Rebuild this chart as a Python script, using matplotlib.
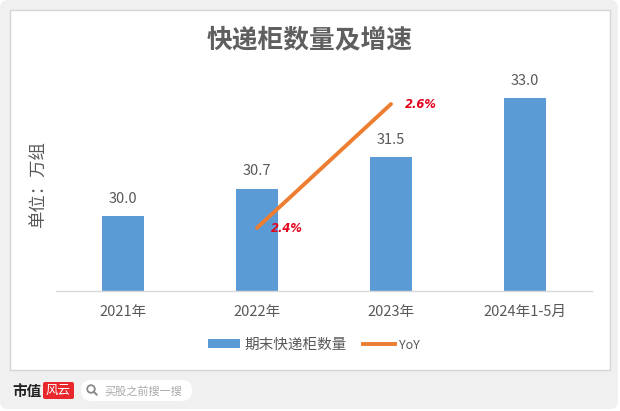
import matplotlib
matplotlib.use("Agg")
import matplotlib.pyplot as plt
from matplotlib.patches import FancyBboxPatch, Rectangle, Circle, Patch
from matplotlib.lines import Line2D

plt.rcParams['font.family'] = ['Noto Sans CJK SC', 'DejaVu Sans']

# ---- data ----
categories = ["2021年", "2022年", "2023年", "2024年1-5月"]
lockers = [30.0, 30.7, 31.5, 33.0]
yoy_categories = ["2022年", "2023年"]
yoy = [2.4, 2.6]

title = "快递柜数量及增速"
ylabel = "单位：万组"
legend_labels = ["期末快递柜数量", "YoY"]

BLUE = "#5b9bd5"
ORANGE = "#ed7d31"
GRAY_TXT = "#595959"
RED = "#e3001b"

W, H = 620, 411
fig = plt.figure(figsize=(W / 100, H / 100), dpi=100)
fig.patch.set_facecolor("white")

# background / card in pixel coordinates
bg = fig.add_axes([0, 0, 1, 1], zorder=0)
bg.set_xlim(0, W)
bg.set_ylim(H, 0)
bg.axis("off")
bg.add_patch(FancyBboxPatch((0, 0), 618, 409, boxstyle="round,pad=0,rounding_size=8",
                            fc="#f0f0f0", ec="none"))
bg.add_patch(Rectangle((9.5, 10), 600, 360, fc="white", ec="#d6d6d6", lw=1))

bg.text(310, 40, title, ha="center", va="center", fontsize=18.5, fontweight="bold",
        color="#5f5f5f")
bg.text(39, 185, ylabel, ha="center", va="center", rotation=90, fontsize=12.5, color=GRAY_TXT)

# footer
bg.text(12, 391, "市值", ha="left", va="center", fontsize=10.5, fontweight="bold", color="#222222")
bg.add_patch(FancyBboxPatch((43, 382), 31, 17, boxstyle="round,pad=0,rounding_size=2",
                            fc="#e8262b", ec="none"))
bg.text(58.5, 390.5, "风云", ha="center", va="center", fontsize=9, color="white", style="italic")
bg.add_patch(FancyBboxPatch((81, 380), 111, 21, boxstyle="round,pad=0,rounding_size=10",
                            fc="white", ec="none"))
bg.add_patch(Circle((91, 389), 3.8, fc="none", ec="#888888", lw=1.3))
bg.plot([93.8, 96.8], [391.8, 394.8], color="#888888", lw=1.4, solid_capstyle="round")
bg.text(104, 391, "买股之前搜一搜", ha="left", va="center", fontsize=8, color="#aaaaaa")

# main axes
ax = fig.add_axes([56 / W, (H - 291) / H, 536 / W, 221 / H], zorder=1)
ax.set_facecolor("none")
x = list(range(len(categories)))
bars = ax.bar(x, lockers, width=0.32, color=BLUE, zorder=2)
ax.set_xlim(-0.5, len(categories) - 0.5)
ax.set_ylim(28.1, 33.72)
for xi, v in zip(x, lockers):
    ax.annotate(f"{v:.1f}", (xi, v), xytext=(0, 12.5), textcoords="offset points",
                ha="center", va="center", fontsize=10.5, color=GRAY_TXT)
ax.set_xticks(x)
ax.set_xticklabels(categories, fontsize=10.5, color=GRAY_TXT)
ax.tick_params(axis="x", length=0, pad=10)
ax.set_yticks([])
for s in ["top", "left", "right"]:
    ax.spines[s].set_visible(False)
ax.spines["bottom"].set_color("#d9d9d9")
ax.spines["bottom"].set_linewidth(1)

ax2 = ax.twinx()
ax2.set_facecolor("none")
yx = [categories.index(c) for c in yoy_categories]
ax2.plot(yx, yoy, color=ORANGE, lw=2.8, solid_capstyle="round", zorder=3)
ax2.set_ylim(2.298, 2.655)
ax2.set_yticks([])
for s in ax2.spines.values():
    s.set_visible(False)
for xi, v in zip(yx, yoy):
    ax2.annotate(f"{v}%", (xi, v), xytext=(10, -0.5), textcoords="offset points",
                 ha="left", va="center", fontsize=8.3, color=RED,
                 fontweight="bold", style="italic", family=["DejaVu Sans"])

handles = [Patch(facecolor=BLUE, edgecolor="none"),
           Line2D([0], [0], color=ORANGE, lw=2.8)]
leg = fig.legend(handles, legend_labels, loc="center", bbox_to_anchor=(314 / W, (H - 345) / H),
                 ncol=2, frameon=False, fontsize=10.5, handlelength=2.2, handleheight=0.55,
                 columnspacing=1.1, handletextpad=0.3, labelcolor=GRAY_TXT)
leg.get_texts()[1].set_fontsize(9)

fig.savefig("out.png", dpi=100, facecolor=fig.get_facecolor())
